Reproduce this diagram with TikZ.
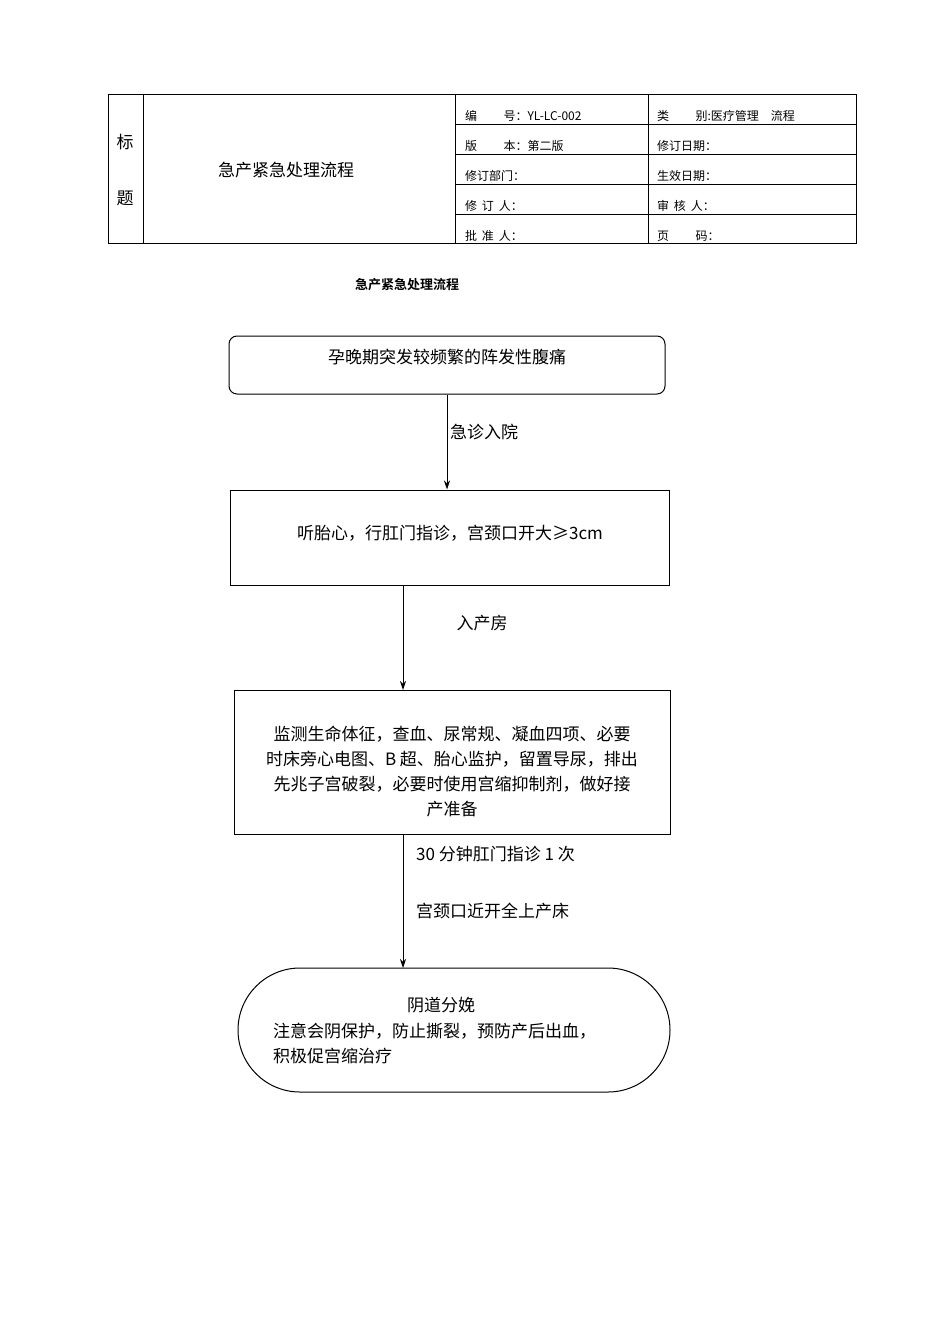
\documentclass[tikz,border=0pt]{standalone}
\usepackage{fontspec}
\setmainfont{Noto Sans CJK SC}
\newfontfamily\cjkb[BoldFont={Noto Sans CJK SC Bold}]{Noto Sans CJK SC}
\usetikzlibrary{arrows.meta}
\begin{document}
\begin{tikzpicture}[x=1pt,y=-1pt,
 tb/.style={font=\fontsize{12}{14}\selectfont,anchor=west,inner sep=0},
 bx/.style={draw,line width=1pt},
 lab/.style={font=\fontsize{17}{20}\selectfont,inner sep=0},
 arr/.style={-{Stealth[length=9pt,width=6pt]},line width=1pt}]
\useasboundingbox (0,0) rectangle (950,1344);
% header table
\draw[line width=1pt] (108,94) rectangle (856,243);
\foreach \x in {143,455,648} \draw[line width=1pt] (\x,94) -- (\x,243);
\foreach \y in {124,154,184,214} \draw[line width=1pt] (455,\y) -- (856,\y);
\node[font=\fontsize{17}{20}\selectfont] (h1) at (125,142) {标};
\node[font=\fontsize{17}{20}\selectfont] (h2) at (125,198) {题};
\node[font=\fontsize{17}{20}\selectfont] (ht) at (286,170) {急产紧急处理流程};
\node[tb] (t1) at (465,116) {编\hspace{2.2em}号：YL-LC-002};
\node[tb] (t2) at (465,146) {版\hspace{2.2em}本：第二版};
\node[tb] (t3) at (465,176) {修订部门：};
\node[tb] (t4) at (465,206) {修\hspace{0.4em}订\hspace{0.4em}人：};
\node[tb] (t5) at (465,236) {批\hspace{0.4em}准\hspace{0.4em}人：};
\node[tb] (u1) at (657,116) {类\hspace{2.2em}别:医疗管理\hspace{1em}流程};
\node[tb] (u2) at (657,146) {修订日期：};
\node[tb] (u3) at (657,176) {生效日期：};
\node[tb] (u4) at (657,206) {审\hspace{0.4em}核\hspace{0.4em}人：};
\node[tb] (u5) at (657,236) {页\hspace{2.2em}码：};
\node[font=\cjkb\bfseries\fontsize{13}{15}\selectfont] (title) at (407,285) {急产紧急处理流程};
% flow
\node[bx,rounded corners=8pt,minimum width=436pt,minimum height=58pt,lab] (b1) at (447,365) {};
\node[lab] at (447,357) {孕晚期突发较频繁的阵发性腹痛};
\node[bx,minimum width=439pt,minimum height=95pt] (b2) at (449.5,537.5) {};
\node[lab] at (450,533) {听胎心，行肛门指诊，宫颈口开大≥3cm};
\node[bx,minimum width=436pt,minimum height=144pt] (b3) at (452,762) {};
\node[lab,align=center,font=\fontsize{17}{25}\selectfont] at (452,771) {监测生命体征，查血、尿常规、凝血四项、必要\\时床旁心电图、B 超、胎心监护，留置导尿，排出\\先兆子宫破裂，必要时使用宫缩抑制剂，做好接\\产准备};
\node[bx,rounded corners=62pt,minimum width=432pt,minimum height=124pt] (b4) at (454,1030) {};
\node[lab] at (441,1005) {阴道分娩};
\node[lab,anchor=west,align=left,font=\fontsize{17}{25}\selectfont] at (273,1043) {注意会阴保护，防止撕裂，预防产后出血，\\积极促宫缩治疗};
\draw[arr] (b1) -- (b1.south |- b2.north);
\draw[arr] (403,585) -- (403,690);
\draw[arr] (403,834) -- (403,968);
\node[lab] (l1) at (484,432) {急诊入院};
\node[lab] (l2) at (482,623) {入产房};
\node[lab,anchor=west] (l3) at (416,854) {30 分钟肛门指诊 1 次};
\node[lab,anchor=west] (l4) at (416,911) {宫颈口近开全上产床};
\end{tikzpicture}
\end{document}
